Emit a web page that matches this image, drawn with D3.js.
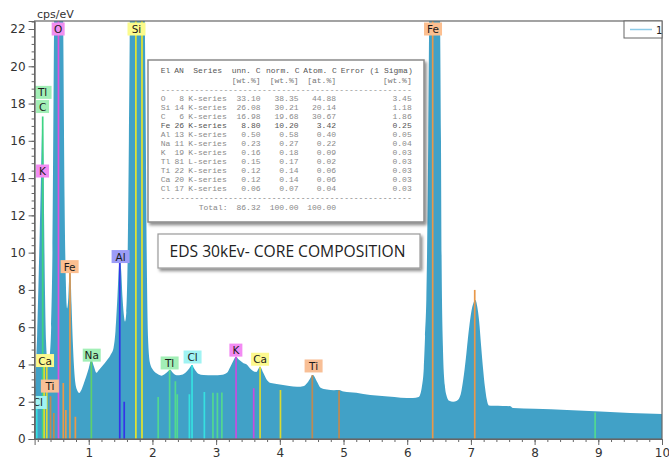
<!DOCTYPE html>
<html><head><meta charset="utf-8">
<script src="https://cdn.jsdelivr.net/npm/d3@7"></script>
<style>
body{margin:0;background:#fff;}
svg{display:block;font-family:"DejaVu Sans",sans-serif;}
</style></head><body>
<svg id="chart" width="669" height="461"></svg>
<script>
// ---- spectrum (keV, cps/eV) ----
const energies = [0.15,0.17,0.19,0.21,0.23,0.25,0.265,0.277,0.29,0.30,0.315,0.33,0.35,0.37,0.39,0.41,0.43,0.455,0.48,0.525,0.57,0.60,0.62,0.64,0.66,0.68,0.695,0.705,0.715,0.73,0.75,0.77,0.79,0.82,0.85,0.88,0.92,0.96,1.00,1.04,1.08,1.12,1.16,1.22,1.28,1.34,1.39,1.42,1.45,1.475,1.49,1.51,1.53,1.55,1.57,1.59,1.61,1.63,1.645,1.68,1.74,1.80,1.84,1.87,1.89,1.91,1.93,1.96,2.00,2.05,2.10,2.14,2.20,2.25,2.28,2.32,2.38,2.46,2.53,2.58,2.62,2.66,2.72,2.80,2.95,3.10,3.17,3.22,3.27,3.31,3.36,3.43,3.48,3.53,3.58,3.63,3.69,3.74,3.80,3.86,3.95,4.05,4.15,4.27,4.38,4.45,4.52,4.58,4.64,4.74,4.85,4.93,5.00,5.20,5.42,5.70,5.90,6.09,6.18,6.23,6.26,6.28,6.30,6.31,6.33,6.35,6.38,6.43,6.48,6.51,6.53,6.54,6.56,6.59,6.62,6.66,6.72,6.78,6.84,6.88,6.92,6.95,6.98,7.01,7.04,7.07,7.10,7.13,7.16,7.19,7.22,7.25,7.28,7.35,7.50,7.62,7.66,8.00,8.51,9.03,9.50,10.0];
const cps = [2.0,3.8,5.6,8.2,11.0,14.0,16.4,17.3,15.2,11.5,7.5,5.2,4.2,4.0,4.5,6.0,10.0,22.0,34,45,34,22,13,8.5,7.0,7.6,8.8,9.15,8.8,7.2,5.2,3.8,3.0,2.6,2.47,2.6,2.95,3.35,3.8,4.25,3.9,3.55,3.7,3.95,4.2,4.5,4.9,5.8,7.6,9.3,9.7,9.0,7.6,6.7,6.3,6.8,9.5,16,22.5,45,70,55,36,26,19,10,5.5,4.1,3.75,3.55,3.45,3.4,3.5,3.65,3.72,3.55,3.42,3.45,3.6,3.8,3.97,3.75,3.5,3.43,3.42,3.45,3.55,3.85,4.2,4.42,4.25,4.07,4.0,3.8,3.65,3.6,3.88,3.55,3.15,3.0,2.95,2.9,2.85,2.8,2.85,3.1,3.43,3.1,2.75,2.65,2.62,2.63,2.55,2.48,2.36,2.28,2.22,2.2,2.25,2.8,3.8,5.5,7.5,9.6,16,25,34,38,34,25,16,9.6,5.0,2.9,2.3,2.05,2.0,2.05,2.4,3.2,4.3,5.3,6.2,6.9,7.3,7.46,7.1,6.3,5.0,3.8,2.8,2.1,1.8,1.78,1.77,1.76,1.66,1.62,1.56,1.47,1.40,1.34];

// ---- element marker lines: energy, top (cps/eV), element ----
const markerEnergy = [0.183,0.277,0.300,0.341,0.400,0.452,0.525,0.600,0.640,0.705,0.790,1.041,1.487,1.557,1.740,1.836,2.090,2.270,2.360,2.390,2.580,2.622,2.815,2.950,3.020,3.090,3.313,3.590,3.690,4.010,4.510,4.930,6.400,7.060,8.950];
const markerTop    = [2.0,17.3,3.9,3.9,2.3,1.4,30,3.0,1.55,9.2,1.2,4.25,9.6,2.0,30,30,2.25,3.72,3.1,2.4,2.4,3.97,2.52,2.48,2.48,2.5,4.42,2.72,3.88,2.63,3.43,2.6,30,8.0,1.42];
const markerElem   = ["Cl","C","Ca","Ca","Ti","Ti","O","Fe","Fe","Fe","Fe","Na","Al","Al","Si","Si","Tl","Tl","Tl","Tl","Cl","Cl","Cl","Tl","Tl","Tl","K","K","Ca","Ca","Ti","Ti","Fe","Fe","Tl"];

// ---- peak labels: text, energy of centre, level of centre ----
const labelText   = ["O","Si","Fe","Tl","C","K","Fe","Al","Na","Ca","Ti","Cl","Tl","Cl","K","Ca","Ti"];
const labelEnergy = [0.52,1.75,6.405,0.275,0.275,0.275,0.70,1.50,1.047,0.314,0.39,0.20,2.27,2.63,3.31,3.69,4.53];
const labelLevel  = [22.0,22.0,22.0,18.6,17.84,14.38,9.25,9.79,4.5,4.21,2.84,1.96,4.08,4.4,4.77,4.28,3.92];
const labelElem   = ["O","Si","Fe","Tl","C","K","Fe","Al","Na","Ca","Ti","Cl","Tl","Cl","K","Ca","Ti"];

const lineColor = {O:"#e050e0",Si:"#e4e42c",Fe:"#e8984a",C:"#3ed483",Na:"#5ed06c",Tl:"#52d890",K:"#c84ce0",Al:"#3434e8",Ca:"#dada30",Ti:"#c08a52",Cl:"#36e0e0"};
const boxColor  = {O:"#f08ef0",Si:"#fbfb8c",Fe:"#fcbf90",C:"#a2efb6",Na:"#a2efb6",Tl:"#a2efb6",K:"#f38bf3",Al:"#9c9cf7",Ca:"#fdf98e",Ti:"#f8bf96",Cl:"#a0f3f3"};

// ---- axis ticks ----
const xTicks = [1,2,3,4,5,6,7,8,9,10];
const yTicks = [0,2,4,6,8,10,12,14,16,18,20,22];

// ---- quantification table ----
const tableHead1 = ["El","AN","Series","unn. C","norm. C","Atom. C","Error (1 Sigma)"];
const tableHead2 = ["[wt.%]","[wt.%]","[at.%]","[wt.%]"];
const tableEl     = ["O","Si","C","Fe","Al","Na","K","Tl","Ti","Ca","Cl"];
const tableAN     = ["8","14","6","26","13","11","19","81","22","20","17"];
const tableSeries = ["K-series","K-series","K-series","K-series","K-series","K-series","K-series","L-series","K-series","K-series","K-series"];
const tableUnn    = ["33.10","26.08","16.98","8.80","0.50","0.23","0.16","0.15","0.12","0.12","0.06"];
const tableNorm   = ["38.35","30.21","19.68","10.20","0.58","0.27","0.18","0.17","0.14","0.14","0.07"];
const tableAtom   = ["44.88","20.14","30.67","3.42","0.40","0.22","0.09","0.02","0.06","0.06","0.04"];
const tableErr    = ["3.45","1.18","1.86","0.25","0.05","0.04","0.03","0.03","0.03","0.03","0.03"];
const tableTotal  = ["Total:","86.32","100.00","100.00"];
const annotation = "EDS 30kEv- CORE COMPOSITION";
const yLabel = "cps/eV";
const legendName = "1";

// ---- layout ----
const svg = d3.select("#chart");
const L = 34.6, R = 662, T = 21, B = 439;
const x = d3.scaleLinear().domain([0.15, 10]).range([L, R]);
const y = d3.scaleLinear().domain([0, 22.43]).range([B, T]);

const defs = svg.append("defs");
defs.append("clipPath").attr("id","plotclip").append("rect")
  .attr("x",L).attr("y",T).attr("width",R-L).attr("height",B-T);
const f = defs.append("filter").attr("id","shadow").attr("x","-10%").attr("y","-10%").attr("width","130%").attr("height","140%");
f.append("feDropShadow").attr("dx",2).attr("dy",2.5).attr("stdDeviation",1.6).attr("flood-color","#000").attr("flood-opacity",0.45);

const plot = svg.append("g").attr("clip-path","url(#plotclip)");

const spec = energies.map((e,i)=>[e,cps[i]]);
plot.append("path").datum(spec)
  .attr("fill","#41a1c7")
  .attr("d", d3.area().x(d=>x(d[0])).y0(y(0)).y1(d=>y(d[1])).curve(d3.curveMonotoneX));

// marker lines
plot.selectAll("line.mk").data(markerEnergy).enter().append("line")
  .attr("x1",d=>x(d)).attr("x2",d=>x(d))
  .attr("y1",y(0)).attr("y2",(d,i)=>y(markerTop[i]))
  .attr("stroke",(d,i)=>lineColor[markerElem[i]])
  .attr("stroke-width",1.7);

// labels
const lg = plot.append("g").style("font-size","10.5px");
labelText.forEach((t,i)=>{
  const cx = x(labelEnergy[i]), cy = y(labelLevel[i]);
  const w = t.length===1 ? 13 : 18;
  lg.append("rect").attr("x",cx-w/2).attr("y",cy-6.5).attr("width",w).attr("height",13)
    .attr("fill",boxColor[labelElem[i]]);
  lg.append("text").attr("x",cx).attr("y",cy+4).attr("text-anchor","middle")
    .attr("fill","#1a1a1a").text(t);
});

// frame
svg.append("rect").attr("x",L).attr("y",T).attr("width",R-L).attr("height",B-T)
  .attr("fill","none").attr("stroke","#666").attr("stroke-width",1.2);

// axes
const yMinor = d3.range(0, 22.41, 0.4);
svg.append("g").attr("transform",`translate(${L},0)`)
  .call(d3.axisLeft(y).tickValues(yMinor).tickSize(3).tickFormat(""))
  .call(g=>g.select(".domain").remove())
  .call(g=>g.selectAll("line").attr("stroke","#666"));
svg.append("g").attr("transform",`translate(${L},0)`)
  .call(d3.axisLeft(y).tickValues(yTicks).tickSize(6).tickPadding(3))
  .call(g=>g.select(".domain").attr("stroke","#666"))
  .call(g=>g.selectAll("line").attr("stroke","#666"))
  .call(g=>g.selectAll("text").attr("fill","#333").style("font-size","12px").style("font-family","DejaVu Sans"));

const xMinor = d3.range(0.2, 10.01, 0.2);
svg.append("g").attr("transform",`translate(0,${B})`)
  .call(d3.axisBottom(x).tickValues(xMinor).tickSize(3).tickFormat(""))
  .call(g=>g.select(".domain").remove())
  .call(g=>g.selectAll("line").attr("stroke","#666"));
svg.append("g").attr("transform",`translate(0,${B})`)
  .call(d3.axisBottom(x).tickValues(xTicks).tickSize(6).tickPadding(3).tickFormat(d3.format("d")))
  .call(g=>g.select(".domain").attr("stroke","#666"))
  .call(g=>g.selectAll("line").attr("stroke","#666"))
  .call(g=>g.selectAll("text").attr("fill","#333").style("font-size","12px").style("font-family","DejaVu Sans"));

svg.append("text").attr("x",37).attr("y",18).style("font-size","11px").attr("fill","#333").text(yLabel);

// legend
svg.append("rect").attr("x",624).attr("y",T).attr("width",R-624).attr("height",17)
  .attr("fill","#fff").attr("stroke","#666").attr("stroke-width",1);
svg.append("line").attr("x1",630).attr("x2",652).attr("y1",29.5).attr("y2",29.5)
  .attr("stroke","#8ccbe8").attr("stroke-width",1.5);
svg.append("text").attr("x",656).attr("y",33.5).style("font-size","10px").attr("fill","#222").text(legendName);

// quantification table
const tb = svg.append("g");
tb.append("rect").attr("x",148).attr("y",60).attr("width",276).attr("height",162)
  .attr("fill","#fff").attr("stroke","#8a8a8a").attr("stroke-width",1.5).attr("filter","url(#shadow)");
const mono = tb.append("g").style("font-family","'Liberation Mono',monospace").style("font-size","8px");
const h1x = [160.7,174.3,193.3,231.7,266,303.3,340.7];
tableHead1.forEach((t,i)=>mono.append("text").attr("x",h1x[i]).attr("y",73).attr("fill","#555").text(t));
const numEnd = [260.5,298.5,336,411.7];
tableHead2.forEach((t,i)=>mono.append("text").attr("x",numEnd[i]).attr("y",82.5).attr("text-anchor","end").attr("fill","#777").text(t));
mono.append("text").attr("x",160.7).attr("y",91.5).attr("fill","#888").attr("textLength",251).attr("lengthAdjust","spacing").text("-".repeat(52));
tableEl.forEach((el,i)=>{
  const yy = 101 + i*9;
  const col = el==="Fe" ? "#555" : "#8a8a8a";
  mono.append("text").attr("x",160.7).attr("y",yy).attr("fill",col).text(el);
  mono.append("text").attr("x",184).attr("y",yy).attr("text-anchor","end").attr("fill",col).text(tableAN[i]);
  mono.append("text").attr("x",188.3).attr("y",yy).attr("fill",col).text(tableSeries[i]);
  [tableUnn[i],tableNorm[i],tableAtom[i],tableErr[i]].forEach((v,j)=>
    mono.append("text").attr("x",numEnd[j]).attr("y",yy).attr("text-anchor","end").attr("fill",col).text(v));
});
mono.append("text").attr("x",160.7).attr("y",200).attr("fill","#777").attr("textLength",251).attr("lengthAdjust","spacing").text("-".repeat(52));
mono.append("text").attr("x",227.5).attr("y",210).attr("text-anchor","end").attr("fill","#888").text(tableTotal[0]);
tableTotal.slice(1).forEach((v,j)=>mono.append("text").attr("x",numEnd[j]).attr("y",210).attr("text-anchor","end").attr("fill","#888").text(v));

// annotation box
const ab = svg.append("g");
ab.append("rect").attr("x",158).attr("y",234).attr("width",262).attr("height",34)
  .attr("fill","#fff").attr("stroke","#9a9a9a").attr("stroke-width",1.2).attr("filter","url(#shadow)");
ab.append("text").attr("x",169.5).attr("y",257).attr("textLength",236).attr("lengthAdjust","spacingAndGlyphs")
  .style("font-family","'Open Sans',sans-serif").style("font-size","15.5px").attr("fill","#222").text(annotation);
</script>
</body></html>
